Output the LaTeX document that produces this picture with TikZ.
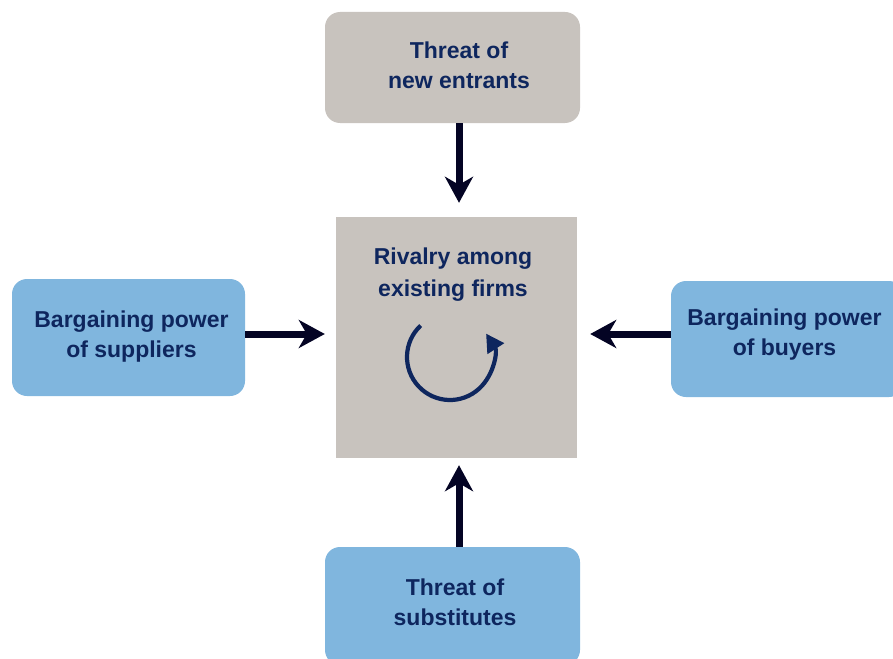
\documentclass[tikz,border=0pt]{standalone}
\usepackage{fontspec}
\setmainfont{Liberation Sans}
\usetikzlibrary{arrows.meta}

\definecolor{boxgray}{RGB}{200,195,190}
\definecolor{boxblue}{RGB}{128,182,222}
\definecolor{textnavy}{RGB}{14,38,94}
\definecolor{arrowdark}{RGB}{4,4,36}

\tikzset{
  forcebox/.style={rounded corners=15pt, minimum width=233pt, minimum height=117pt},
  forcetext/.style={text=textnavy, align=center, inner sep=0pt,
    font=\fontsize{23}{30}\selectfont\bfseries},
  bigarrow/.style={draw=arrowdark, line width=7pt,
    -{Stealth[length=26pt, width=28pt, inset=8pt]}},
  turnarrow/.style={draw=textnavy, line width=4.2pt,
    -{Triangle[length=18pt, width=19pt]}}
}

\begin{document}
\begin{tikzpicture}[x=1pt, y=-1pt]
\useasboundingbox (0,0) rectangle (893,658);

%% the five forces
\node[forcebox, fill=boxgray, minimum width=255pt, minimum height=111pt] (entrants) at (452.5,67.5) {};
\node[forcetext] (entrantstext) at (459,65.5) {Threat of\\new entrants};

\node[fill=boxgray, minimum width=241pt, minimum height=241pt] (rivalry) at (456.5,337.5) {};
\node[forcetext] (rivalrytext) at (453,275) {Rivalry among\\[2pt]existing firms};

\node[forcebox, fill=boxblue] (suppliers) at (128.5,337.5) {};
\node[forcetext] (supplierstext) at (131.5,337) {Bargaining power\\of suppliers};

\node[forcebox, fill=boxblue, minimum height=116pt] (buyers) at (787.5,339) {};
\node[forcetext] (buyerstext) at (784.5,334.5) {Bargaining power\\of buyers};

\node[forcebox, fill=boxblue, minimum width=255pt, minimum height=118pt] (substitutes) at (452.5,606) {};
\node[forcetext] (substitutestext) at (455,602) {Threat of\\substitutes};

%% arrows into the rivalry box
\draw[bigarrow, shorten >=14pt] (entrantstext |- entrants.south) -- (entrantstext |- rivalry.north);
\draw[bigarrow, shorten >=11pt] ([yshift=3.5pt]suppliers.east) -- ([yshift=3.5pt]suppliers.east -| rivalry.west);
\draw[bigarrow, shorten >=13pt] ([yshift=5pt]buyers.west) -- ([yshift=5pt]buyers.west -| rivalry.east);
\draw[bigarrow, shorten >=7pt] ([xshift=6.5pt]substitutes.north) -- ([xshift=6.5pt]substitutes.north |- rivalry.south);

%% rivalry cycle
\coordinate (cyclecentre) at (450,357);
\draw[turnarrow] (cyclecentre) ++(227:43) arc[start angle=227, end angle=-33, radius=43];

\end{tikzpicture}
\end{document}
